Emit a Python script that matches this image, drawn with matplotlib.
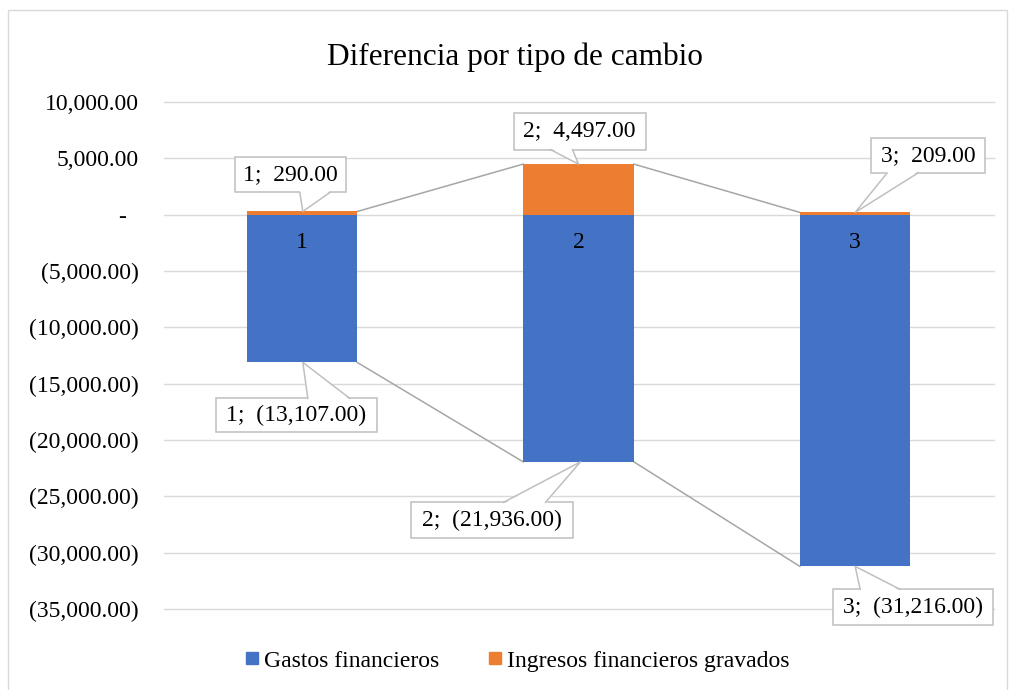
import matplotlib
matplotlib.use("Agg")
import matplotlib.pyplot as plt
from matplotlib.patches import Rectangle, Polygon
from matplotlib.lines import Line2D
from matplotlib.transforms import IdentityTransform

# -----------------------
# Data
# -----------------------
categories = ["1", "2", "3"]
gastos = [-13107, -21936, -31216]
ingresos = [290, 4497, 209]
yticks = [10000, 5000, 0, -5000, -10000, -15000, -20000, -25000, -30000, -35000]

BLUE = "#4472C4"
ORANGE = "#ED7D31"
GRID = "#D9D9D9"
SERIES_LINE = "#A6A6A6"
BOX_EDGE = "#BFBFBF"
FS = 17

plt.rcParams["font.family"] = ["Liberation Serif", "DejaVu Serif"]


def fmt(v):
    if v == 0:
        return "-  "
    if v < 0:
        return f"({-v:,.2f})"
    return f"{v:,.2f}"


# -----------------------
# Callout layout (pixels, relative to bar centre / value)
# box offset, box size, wedge base (x range on box edge), apex dx
# -----------------------
ing_box_off = [(-11.5, 36.5), (1, 33), (73, 57)]
ing_box_size = [(111, 35), (132, 37), (114, 35)]
ing_base = [(-2, 28), (-28, -6), (32, 63)]
ing_apex = [1, 0, 0]

gas_box_off = [(-5.5, -53), (-87, -58.5), (58, -41)]
gas_box_size = [(161, 34), (162, 36), (160, 36)]
gas_base = [(6, 48), (-75, -33), (5, 45)]
gas_apex = [1, 2, 0]

# -----------------------
# Figure
# -----------------------
fig = plt.figure(figsize=(10.09, 6.90), dpi=100)
ax = fig.add_axes([163.5 / 1009, 0.1174, 830 / 1009, 0.7346])

x = list(range(1, len(categories) + 1))
w = 0.4
ax.bar(x, gastos, width=w, color=BLUE, zorder=3)
ax.bar(x, ingresos, width=w, color=ORANGE, zorder=3)

# series lines between stacked bars (Excel style)
for i in range(len(x) - 1):
    ax.plot([x[i] + w / 2, x[i + 1] - w / 2], [ingresos[i], ingresos[i + 1]],
            color=SERIES_LINE, lw=1.1, zorder=2)
    ax.plot([x[i] + w / 2, x[i + 1] - w / 2], [gastos[i], gastos[i + 1]],
            color=SERIES_LINE, lw=1.1, zorder=2)

ax.set_xlim(0.5, 3.5)
ax.set_ylim(-35000, 10000)
ax.set_yticks(yticks)
ax.set_yticklabels([fmt(v) for v in yticks], fontsize=FS)
ax.set_xticks([])
ax.tick_params(axis="y", length=0, pad=18)
ax.grid(axis="y", color=GRID, lw=1, zorder=0)
for gl in ax.get_ygridlines():
    gl.set_clip_on(False)
for s in ax.spines.values():
    s.set_visible(False)

# category labels next to the axis at 0
for xi, c in zip(x, categories):
    ax.annotate(c, (xi, 0), xytext=(0, -28), textcoords="offset pixels",
                ha="center", va="center", fontsize=FS, zorder=4)


def callout(xv, yv, text, off, size, base, apex_dx):
    px, py = ax.transData.transform((xv, yv))
    ident = IdentityTransform()
    cx, cy = px + off[0], py + off[1]
    bw, bh = size
    ax.add_patch(Rectangle((cx - bw / 2, cy - bh / 2), bw, bh, transform=ident,
                           fc="white", ec=BOX_EDGE, lw=1.1, zorder=5, clip_on=False))
    if off[1] > 0:
        ey, inner = cy - bh / 2, 1.5
    else:
        ey, inner = cy + bh / 2, -1.5
    b0, b1 = px + base[0], px + base[1]
    apx = px + apex_dx
    ax.add_patch(Polygon([(b0, ey + inner), (apx, py), (b1, ey + inner)],
                         closed=True, transform=ident, fc="white", lw=0,
                         zorder=6, clip_on=False))
    ax.add_line(Line2D([b0, apx, b1], [ey, py, ey], transform=ident,
                       color=BOX_EDGE, lw=1.1, zorder=7, clip_on=False))
    ax.text(cx, cy, text, transform=ident, ha="center", va="center",
            fontsize=FS, zorder=8, clip_on=False)


for i, xi in enumerate(x):
    callout(xi, ingresos[i], f"{xi};  {fmt(ingresos[i])}",
            ing_box_off[i], ing_box_size[i], ing_base[i], ing_apex[i])
    callout(xi, gastos[i], f"{xi};  {fmt(gastos[i])}",
            gas_box_off[i], gas_box_size[i], gas_base[i], gas_apex[i])

fig.text(515 / 1009, 1 - 57 / 690, "Diferencia por tipo de cambio",
         ha="center", va="center", fontsize=22.5)

handles = [Line2D([], [], marker="s", ls="", color=BLUE, markersize=8.6),
           Line2D([], [], marker="s", ls="", color=ORANGE, markersize=8.6)]
fig.legend(handles, ["Gastos financieros", "Ingresos financieros gravados"],
           loc="center", bbox_to_anchor=(518 / 1009, 1 - 661 / 690), ncol=2,
           frameon=False, fontsize=FS, handletextpad=0.27, columnspacing=2.1,
           handlelength=0.5, borderpad=0, borderaxespad=0)

# outer chart border
fig.patches.append(Rectangle((8 / 1009, -0.01), 999 / 1009, 1.0 - 10 / 690 + 0.01,
                             transform=fig.transFigure, fill=False, ec="#D9D9D9", lw=1))

fig.savefig("out.png", dpi=100)
